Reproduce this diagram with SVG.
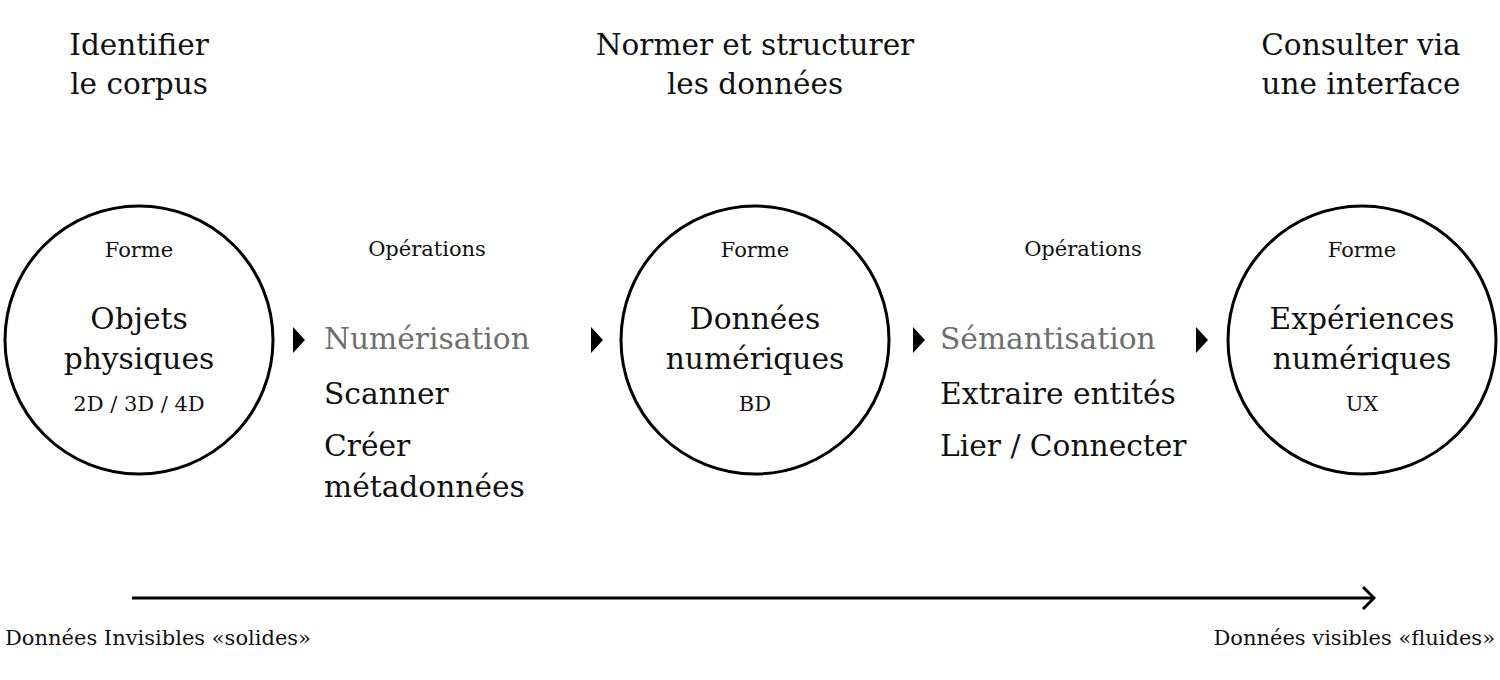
<svg xmlns="http://www.w3.org/2000/svg" width="1500" height="680" viewBox="0 0 1500 680">
<style>
text{font-family:"DejaVu Serif","Liberation Serif",serif;fill:#111}
.t{font-size:29.5px;text-anchor:middle}
.s{font-size:21px;text-anchor:middle}
.m{font-size:29.7px;text-anchor:middle}
.o{font-size:29.7px}
.g{fill:#6e6e6e}
.c{fill:#fff;stroke:#000;stroke-width:3}
.b{font-size:21px}
</style>
<defs>
<marker id="chev" markerWidth="14" markerHeight="24" refX="12" refY="12" orient="auto" markerUnits="userSpaceOnUse">
<path d="M1,1 L12,12 L1,23" fill="none" stroke="#000" stroke-width="3"/>
</marker>
<path id="tri" d="M0,-13 L12,0 L0,13 Z" fill="#000"/>
</defs>
<g id="titles">
<text class="t" x="139" y="55">Identifier</text>
<text class="t" x="139" y="94">le corpus</text>
<text class="t" x="755" y="55">Normer et structurer</text>
<text class="t" x="755" y="94">les données</text>
<text class="t" x="1361" y="55">Consulter via</text>
<text class="t" x="1361" y="94">une interface</text>
</g>
<g id="node1">
<circle class="c" cx="139" cy="340" r="134"/>
<text class="s" x="139" y="257">Forme</text>
<text class="m" x="139" y="329">Objets</text>
<text class="m" x="139" y="369">physiques</text>
<text class="s" x="139" y="411">2D / 3D / 4D</text>
</g>
<g id="ops1">
<text class="s" x="427" y="256">Opérations</text>
<text class="o g" x="324" y="349">Numérisation</text>
<text class="o" x="324" y="404">Scanner</text>
<text class="o" x="324" y="456">Créer</text>
<text class="o" x="324" y="497">métadonnées</text>
</g>
<g id="node2">
<circle class="c" cx="755" cy="340" r="134"/>
<text class="s" x="755" y="257">Forme</text>
<text class="m" x="755" y="329">Données</text>
<text class="m" x="755" y="369">numériques</text>
<text class="s" x="755" y="411">BD</text>
</g>
<g id="ops2">
<text class="s" x="1083" y="256">Opérations</text>
<text class="o g" x="940" y="349">Sémantisation</text>
<text class="o" x="940" y="404">Extraire entités</text>
<text class="o" x="940" y="456">Lier / Connecter</text>
</g>
<g id="node3">
<circle class="c" cx="1362" cy="340" r="134"/>
<text class="s" x="1362" y="257">Forme</text>
<text class="m" x="1362" y="329">Expériences</text>
<text class="m" x="1362" y="369">numériques</text>
<text class="s" x="1362" y="411">UX</text>
</g>
<g id="connectors">
<use href="#tri" x="293" y="340"/>
<use href="#tri" x="591" y="340"/>
<use href="#tri" x="913" y="340"/>
<use href="#tri" x="1196" y="340"/>
<line x1="132" y1="598" x2="1374" y2="598" stroke="#000" stroke-width="3" marker-end="url(#chev)"/>
</g>
<g id="legend">
<text class="b" x="5" y="645">Données Invisibles «solides»</text>
<text class="b" x="1495" y="645" text-anchor="end">Données visibles «fluides»</text>
</g>
</svg>
